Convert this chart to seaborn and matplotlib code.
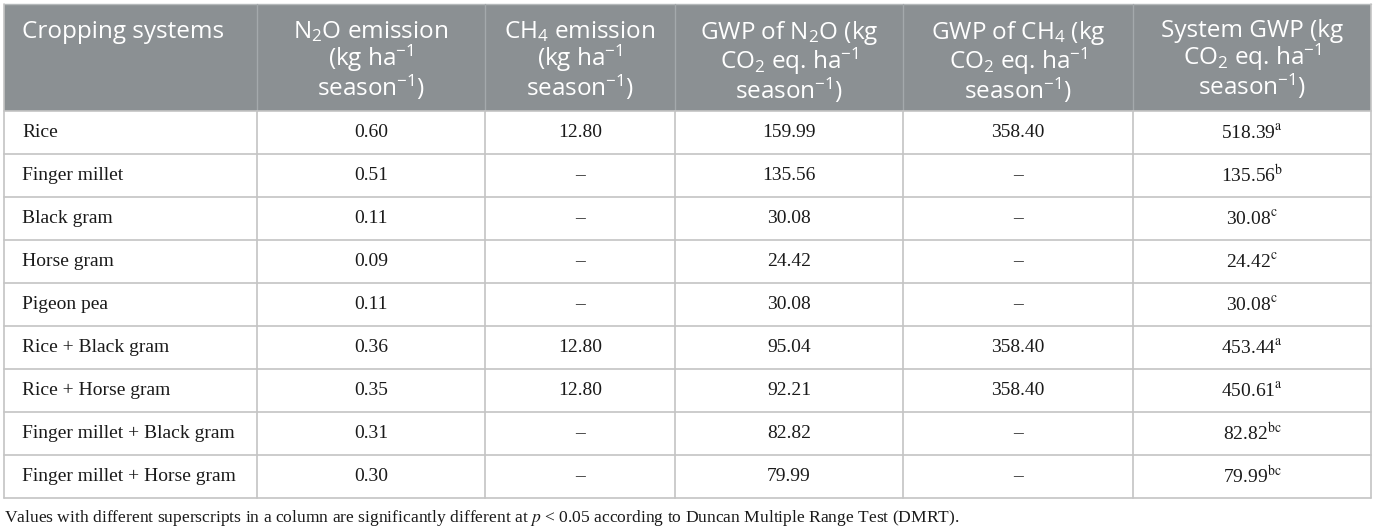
import numpy as np
import pandas as pd
import matplotlib
matplotlib.use("Agg")
import matplotlib.pyplot as plt
from matplotlib.patches import Rectangle
import seaborn as sns

# table data
crops = ["Rice", "Finger millet", "Black gram", "Horse gram", "Pigeon pea",
         "Rice + Black gram", "Rice + Horse gram",
         "Finger millet + Black gram", "Finger millet + Horse gram"]
n2o_emission = [0.60, 0.51, 0.11, 0.09, 0.11, 0.36, 0.35, 0.31, 0.30]
ch4_emission = [12.80, None, None, None, None, 12.80, 12.80, None, None]
gwp_n2o = [159.99, 135.56, 30.08, 24.42, 30.08, 95.04, 92.21, 82.82, 79.99]
gwp_ch4 = [358.40, None, None, None, None, 358.40, 358.40, None, None]
system_gwp = [518.39, 135.56, 30.08, 24.42, 30.08, 453.44, 450.61, 82.82, 79.99]
dmrt_letters = ["a", "b", "c", "c", "c", "a", "a", "bc", "bc"]

headers = [
    "Cropping systems",
    "N$_2$O emission\n(kg ha$^{-1}$\nseason$^{-1}$)",
    "CH$_4$ emission\n(kg ha$^{-1}$\nseason$^{-1}$)",
    "GWP of N$_2$O (kg\nCO$_2$ eq. ha$^{-1}$\nseason$^{-1}$)",
    "GWP of CH$_4$ (kg\nCO$_2$ eq. ha$^{-1}$\nseason$^{-1}$)",
    "System GWP (kg\nCO$_2$ eq. ha$^{-1}$\nseason$^{-1}$)",
]
footnote = ("Values with different superscripts in a column are significantly "
            "different at $p$ < 0.05 according to Duncan Multiple Range Test (DMRT).")

df = pd.DataFrame({
    "crop": crops,
    "n2o": n2o_emission,
    "ch4": ch4_emission,
    "gwp_n2o": gwp_n2o,
    "gwp_ch4": gwp_ch4,
    "system": system_gwp,
    "letter": dmrt_letters,
})


def fmt(v):
    if v is None or pd.isna(v):
        return "–"
    return f"{v:.2f}"


sns.set_theme(style="white")
plt.rcParams["font.family"] = ["Liberation Serif", "DejaVu Serif"]
plt.rcParams["mathtext.fontset"] = "custom"
plt.rcParams["mathtext.rm"] = "Open Sans"
plt.rcParams["mathtext.it"] = "Open Sans:italic"
plt.rcParams["mathtext.bf"] = "Open Sans:bold"

fig = plt.figure(figsize=(13.75, 5.31), dpi=100)
ax = fig.add_axes([0, 0, 1, 1])
ax.set_xlim(0, 1375)
ax.set_ylim(531, 0)
ax.axis("off")

# layout
col_edges = [4, 257, 485, 675, 903, 1133, 1371]
top = 4
head_bot = 111
row_h = 43
n_rows = len(df)
bottom = head_bot + n_rows * row_h
grid_col = "#c4c4c4"
head_col = "#8b9093"

# header
ax.add_patch(Rectangle((col_edges[0], top), col_edges[-1] - col_edges[0],
                       head_bot - top, facecolor=head_col, edgecolor="none"))
ax.plot([col_edges[0], col_edges[-1]], [top, top], color="#b5b9bb", lw=1)
for x in col_edges[1:-1]:
    ax.plot([x, x], [top, head_bot], color="#a4a9ac", lw=1)
for i, h in enumerate(headers):
    if i == 0:
        ax.text(col_edges[0] + 18, top + 16, h, ha="left", va="top",
                color="white", fontsize=17.5, family="Open Sans",
                linespacing=0.95)
    else:
        cx = (col_edges[i] + col_edges[i + 1]) / 2
        ax.text(cx, top + 15, h, ha="center", va="top", color="white",
                fontsize=17.5, family="Open Sans", linespacing=0.95,
                multialignment="center")

# body grid
ax.plot([col_edges[0], col_edges[0]], [top, bottom], color=grid_col, lw=1.2)
ax.plot([col_edges[-1], col_edges[-1]], [top, bottom], color=grid_col, lw=1.2)
for x in col_edges[1:-1]:
    ax.plot([x, x], [head_bot, bottom], color=grid_col, lw=1.2)
for r in range(n_rows + 1):
    y = head_bot + r * row_h
    ax.plot([col_edges[0], col_edges[-1]], [y, y], color=grid_col, lw=1.2)

# body text
body_kw = dict(fontsize=14, color="#1a1a1a", va="center",
               math_fontfamily="stix")
for r, row in df.iterrows():
    y = head_bot + (r + 0.5) * row_h
    ax.text(col_edges[0] + 18, y, row["crop"], ha="left", **body_kw)
    cells = [fmt(row["n2o"]), fmt(row["ch4"]), fmt(row["gwp_n2o"]),
             fmt(row["gwp_ch4"]),
             fmt(row["system"]) + "$^{\\mathrm{" + row["letter"] + "}}$"]
    for c, txt in enumerate(cells, start=1):
        cx = (col_edges[c] + col_edges[c + 1]) / 2
        ax.text(cx, y, txt, ha="center", **body_kw)

ax.text(col_edges[0], bottom + 20, footnote, ha="left", va="center",
        fontsize=12.6, color="#1a1a1a", math_fontfamily="stix")

fig.savefig("out.png", dpi=100)
